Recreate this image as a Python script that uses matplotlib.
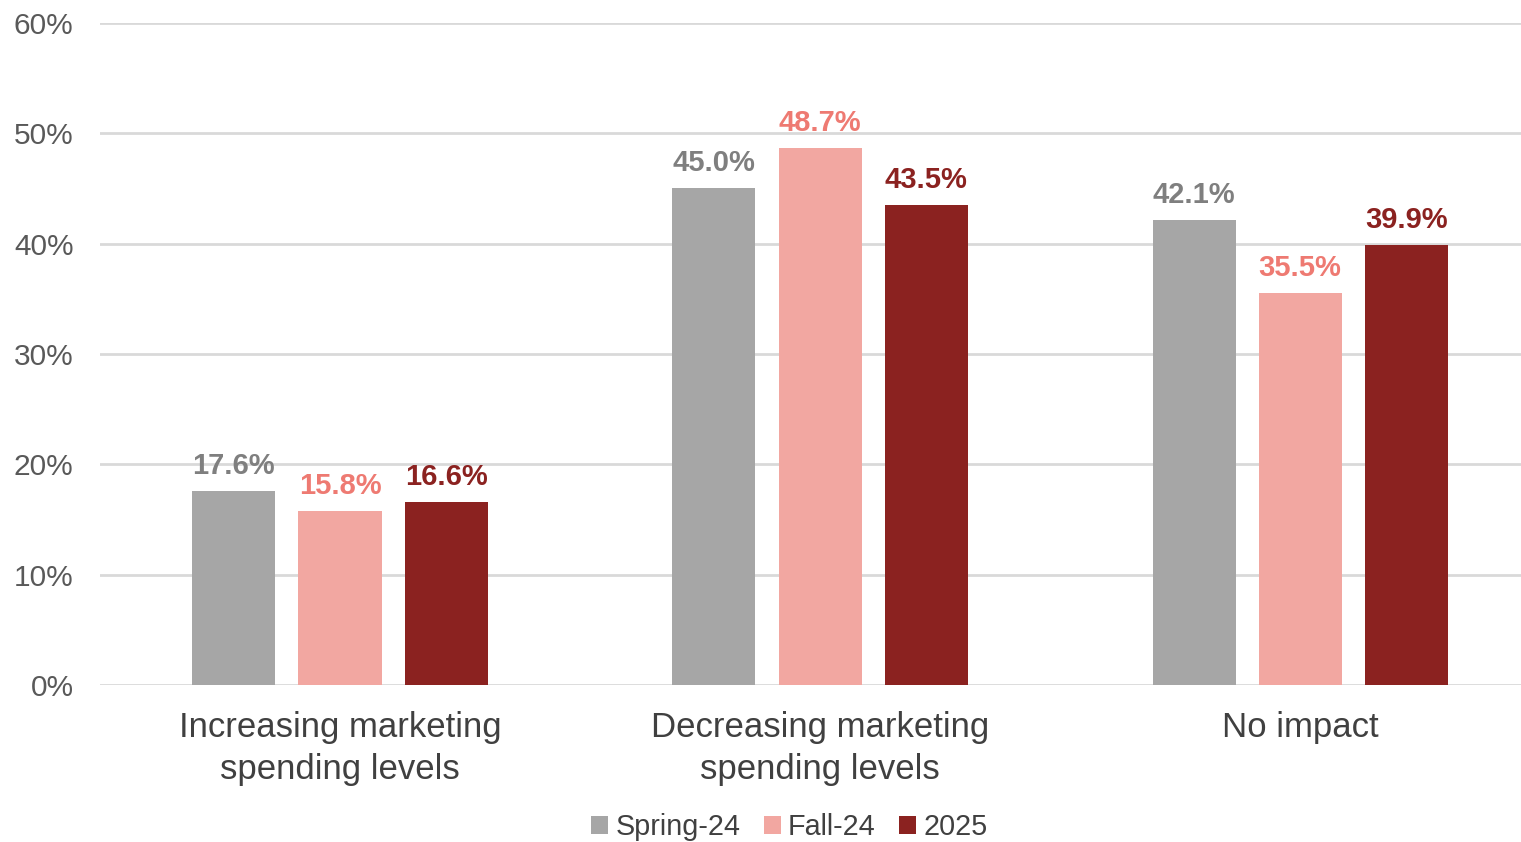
import numpy as np
import matplotlib.pyplot as plt
from matplotlib.ticker import PercentFormatter

plt.rcParams['font.family'] = ['Liberation Sans', 'DejaVu Sans']

categories = ["Increasing marketing\nspending levels",
              "Decreasing marketing\nspending levels",
              "No impact"]
series_names = ["Spring-24", "Fall-24", "2025"]
spring24 = [17.6, 45.0, 42.1]
fall24 = [15.8, 48.7, 35.5]
y2025 = [16.6, 43.5, 39.9]

bar_colors = ["#A6A6A6", "#F2A7A1", "#8B2220"]
label_colors = ["#7F7F7F", "#EE7A72", "#8B2220"]

fig = plt.figure(figsize=(15.21, 8.42), dpi=100)
ax = fig.add_axes([0.0657, 0.1865, 0.9343, 0.7862])

x = np.arange(len(categories))
width = 0.173
offset = 0.221

for i, (name, vals) in enumerate(zip(series_names, [spring24, fall24, y2025])):
    pos = x + (i - 1) * offset
    bars = ax.bar(pos, vals, width, color=bar_colors[i], label=name, zorder=3)
    for b, v in zip(bars, vals):
        ax.annotate(f"{v:.1f}%", (b.get_x() + b.get_width() / 2, v),
                    xytext=(0, 8), textcoords="offset points",
                    ha="center", va="bottom", fontsize=21, fontweight="bold",
                    color=label_colors[i])

ax.set_ylim(0, 60)
ax.set_xlim(-0.5, 2.46)
ax.set_yticks(range(0, 61, 10))
ax.yaxis.set_major_formatter(PercentFormatter(decimals=0))
ax.set_xticks(x)
ax.set_xticklabels(categories, fontsize=25, color="#404040", linespacing=1.35)
ax.tick_params(axis="y", labelsize=21.5, labelcolor="#595959", length=0, pad=19)
ax.tick_params(axis="x", length=0, pad=19)

ax.grid(axis="y", color="#D9D9D9", linewidth=2, zorder=0)
for s in ax.spines.values():
    s.set_visible(False)

leg = fig.legend(loc="lower center", bbox_to_anchor=(0.519, -0.03), ncol=3,
                 frameon=False, fontsize=20.7, handlelength=0.6, handleheight=0.6,
                 handletextpad=0.25, columnspacing=0.8)
for t in leg.get_texts():
    t.set_color("#404040")

fig.savefig("out.png", dpi=100)
